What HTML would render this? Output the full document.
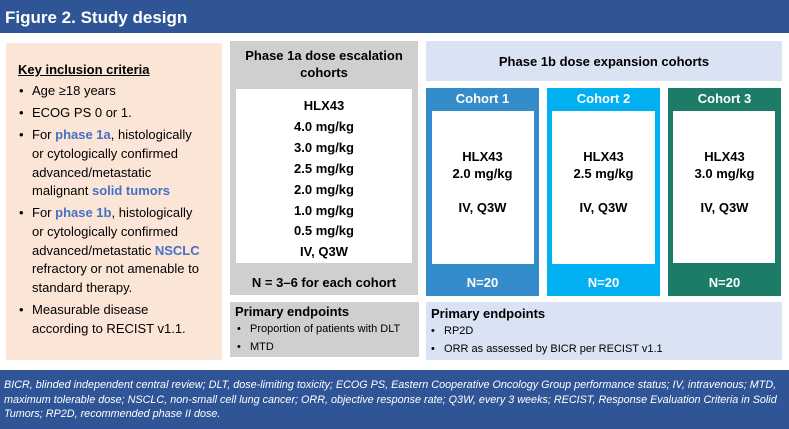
<!DOCTYPE html>
<html><head><meta charset="utf-8"><style>
*{margin:0;padding:0;box-sizing:border-box}
body{width:789px;height:429px;background:#fff;font-family:"Liberation Sans",Arial,sans-serif;position:relative;overflow:hidden;color:#000}
.a{position:absolute}
.t{position:absolute;white-space:nowrap;line-height:1}
.b{font-weight:bold}
.c{text-align:center}
.bl{color:#4472c4;font-weight:bold}
</style></head><body>
<div class="a" style="left:0;top:0;width:789px;height:33px;background:#2f5597"></div>
<div class="t b" style="left:5px;top:9px;font-size:17px;color:#fff">Figure 2. Study design</div>

<div class="a" style="left:6px;top:43px;width:216px;height:317px;background:#fbe5d6"></div>
<div class="t b" style="left:18px;top:63px;font-size:13px;text-decoration:underline">Key inclusion criteria</div>
<div class="a" style="left:19px;top:82px;font-size:13px;line-height:18.8px;width:200px">
<div style="position:absolute;top:0">•</div><div style="position:absolute;left:13px;top:0">Age ≥18 years</div>
<div style="position:absolute;top:22px">•</div><div style="position:absolute;left:13px;top:22px">ECOG PS 0 or 1.</div>
<div style="position:absolute;top:44px">•</div><div style="position:absolute;left:13px;top:44px;white-space:nowrap">For <span class="bl">phase 1a</span>, histologically<br>or cytologically confirmed<br>advanced/metastatic<br>malignant <span class="bl">solid tumors</span></div>
<div style="position:absolute;top:122px">•</div><div style="position:absolute;left:13px;top:122px;white-space:nowrap">For <span class="bl">phase 1b</span>, histologically<br>or cytologically confirmed<br>advanced/metastatic <span class="bl">NSCLC</span><br>refractory or not amenable to<br>standard therapy.</div>
<div style="position:absolute;top:219px">•</div><div style="position:absolute;left:13px;top:219px;white-space:nowrap">Measurable disease<br>according to RECIST v1.1.</div>
</div>

<div class="a" style="left:230px;top:41px;width:188px;height:254px;background:#d0cece"></div>
<div class="t b c" style="left:230px;top:47px;width:188px;font-size:13px;line-height:17px">Phase 1a dose escalation<br>cohorts</div>
<div class="a" style="left:236px;top:89px;width:176px;height:174px;background:#fff"></div>
<div class="a b c" style="left:236px;top:96px;width:176px;font-size:13px;line-height:20.9px">HLX43<br>4.0 mg/kg<br>3.0 mg/kg<br>2.5 mg/kg<br>2.0 mg/kg<br>1.0 mg/kg<br>0.5 mg/kg<br>IV, Q3W</div>
<div class="t b c" style="left:230px;top:276px;width:188px;font-size:13px">N = 3–6 for each cohort</div>

<div class="a" style="left:230px;top:302px;width:189px;height:55px;background:#d0cece"></div>
<div class="t b" style="left:235px;top:305px;font-size:13px">Primary endpoints</div>
<div class="t" style="left:237px;top:324px;font-size:11px">•&nbsp;&nbsp; Proportion of patients with DLT</div>
<div class="t" style="left:237px;top:342px;font-size:11px">•&nbsp;&nbsp; MTD</div>

<div class="a" style="left:426px;top:41px;width:356px;height:40px;background:#dae3f3"></div>
<div class="t b c" style="left:426px;top:55px;width:356px;font-size:13px">Phase 1b dose expansion cohorts</div>

<div class="a" style="left:426px;top:88px;width:113px;height:208px;background:#358ccb"></div>
<div class="a" style="left:547px;top:88px;width:113px;height:208px;background:#00b0f0"></div>
<div class="a" style="left:668px;top:88px;width:113px;height:208px;background:#1c7c68"></div>
<div class="a" style="left:432px;top:111px;width:102px;height:153px;background:#fff"></div>
<div class="a" style="left:552px;top:111px;width:103px;height:153px;background:#fff"></div>
<div class="a" style="left:673px;top:111px;width:102px;height:152px;background:#fff"></div>
<div class="t b c" style="left:426px;top:92px;width:113px;font-size:13px;color:#fff">Cohort 1</div>
<div class="t b c" style="left:547px;top:92px;width:113px;font-size:13px;color:#fff">Cohort 2</div>
<div class="t b c" style="left:668px;top:92px;width:113px;font-size:13px;color:#fff">Cohort 3</div>
<div class="a b c" style="left:426px;top:148px;width:113px;font-size:13px;line-height:17px">HLX43<br>2.0 mg/kg<br><br>IV, Q3W</div>
<div class="a b c" style="left:547px;top:148px;width:113px;font-size:13px;line-height:17px">HLX43<br>2.5 mg/kg<br><br>IV, Q3W</div>
<div class="a b c" style="left:668px;top:148px;width:113px;font-size:13px;line-height:17px">HLX43<br>3.0 mg/kg<br><br>IV, Q3W</div>
<div class="t b c" style="left:426px;top:276px;width:113px;font-size:13px;color:#fff">N=20</div>
<div class="t b c" style="left:547px;top:276px;width:113px;font-size:13px;color:#fff">N=20</div>
<div class="t b c" style="left:668px;top:276px;width:113px;font-size:13px;color:#fff">N=20</div>

<div class="a" style="left:426px;top:302px;width:356px;height:58px;background:#dae3f3"></div>
<div class="t b" style="left:431px;top:307px;font-size:13px">Primary endpoints</div>
<div class="t" style="left:431px;top:326px;font-size:11px">•&nbsp;&nbsp; RP2D</div>
<div class="t" style="left:431px;top:344px;font-size:11px">•&nbsp;&nbsp; ORR as assessed by BICR per RECIST v1.1</div>

<div class="a" style="left:0;top:370px;width:789px;height:59px;background:#2f5597"></div>
<div class="a" style="left:4px;top:378px;width:785px;font-size:10.8px;line-height:14.5px;color:#fff;font-style:italic;white-space:nowrap">BICR, blinded independent central review; DLT, dose-limiting toxicity; ECOG PS, Eastern Cooperative Oncology Group performance status; IV, intravenous; MTD,<br>maximum tolerable dose; NSCLC, non-small cell lung cancer; ORR, objective response rate; Q3W, every 3 weeks; RECIST, Response Evaluation Criteria in Solid<br>Tumors; RP2D, recommended phase II dose.</div>
</body></html>
